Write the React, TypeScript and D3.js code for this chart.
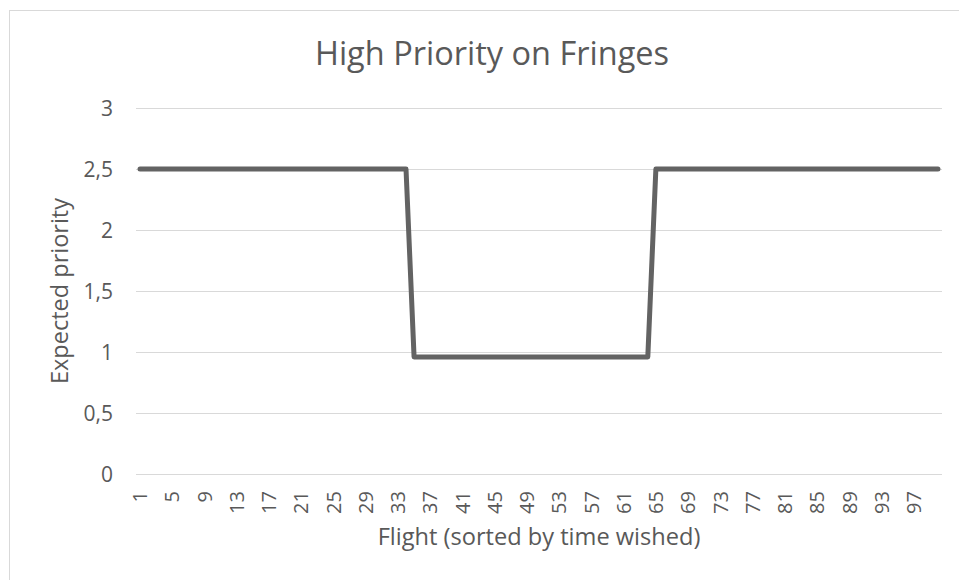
import React from "react";
import * as d3 from "d3";

const title = "High Priority on Fringes";
const xTitle = "Flight (sorted by time wished)";
const yTitle = "Expected priority";

// Flight numbers 1..100
const flights: number[] = [
  1, 2, 3, 4, 5, 6, 7, 8, 9, 10, 11, 12, 13, 14, 15, 16, 17, 18, 19, 20,
  21, 22, 23, 24, 25, 26, 27, 28, 29, 30, 31, 32, 33, 34, 35, 36, 37, 38, 39, 40,
  41, 42, 43, 44, 45, 46, 47, 48, 49, 50, 51, 52, 53, 54, 55, 56, 57, 58, 59, 60,
  61, 62, 63, 64, 65, 66, 67, 68, 69, 70, 71, 72, 73, 74, 75, 76, 77, 78, 79, 80,
  81, 82, 83, 84, 85, 86, 87, 88, 89, 90, 91, 92, 93, 94, 95, 96, 97, 98, 99, 100,
];

// Expected priority per flight
const priority: number[] = [
  2.5, 2.5, 2.5, 2.5, 2.5, 2.5, 2.5, 2.5, 2.5, 2.5,
  2.5, 2.5, 2.5, 2.5, 2.5, 2.5, 2.5, 2.5, 2.5, 2.5,
  2.5, 2.5, 2.5, 2.5, 2.5, 2.5, 2.5, 2.5, 2.5, 2.5,
  2.5, 2.5, 2.5, 2.5, 0.96, 0.96, 0.96, 0.96, 0.96, 0.96,
  0.96, 0.96, 0.96, 0.96, 0.96, 0.96, 0.96, 0.96, 0.96, 0.96,
  0.96, 0.96, 0.96, 0.96, 0.96, 0.96, 0.96, 0.96, 0.96, 0.96,
  0.96, 0.96, 0.96, 0.96, 2.5, 2.5, 2.5, 2.5, 2.5, 2.5,
  2.5, 2.5, 2.5, 2.5, 2.5, 2.5, 2.5, 2.5, 2.5, 2.5,
  2.5, 2.5, 2.5, 2.5, 2.5, 2.5, 2.5, 2.5, 2.5, 2.5,
  2.5, 2.5, 2.5, 2.5, 2.5, 2.5, 2.5, 2.5, 2.5, 2.5,
];

const yTicks: number[] = [0, 0.5, 1, 1.5, 2, 2.5, 3];
const xTickLabels: number[] = [1, 5, 9, 13, 17, 21, 25, 29, 33, 37, 41, 45, 49, 53, 57, 61, 65, 69, 73, 77, 81, 85, 89, 93, 97];

const W = 959;
const H = 580;
const FONT = "'Open Sans', Lato, sans-serif";
const TXT = "#595959";

export default function App() {
  const x = d3
    .scalePoint<number>()
    .domain(flights)
    .range([136, 942])
    .padding(0.5);
  const y = d3.scaleLinear().domain([0, 3]).range([474, 108]);

  const line = d3
    .line<number>()
    .x((_, i) => x(flights[i]) as number)
    .y((d) => y(d));

  const fmt = (v: number) => String(v).replace(".", ",");

  return (
    <svg
      width={W}
      height={H}
      style={{ position: "absolute", left: 0, top: 0, background: "#fff" }}
      fontFamily={FONT}
    >
      <rect x={0} y={0} width={W} height={H} fill="#fff" />
      <rect x={9.5} y={10.5} width={W + 20} height={H + 20} fill="none" stroke="#d9d9d9" strokeWidth={1} />

      <text x={492} y={65} textAnchor="middle" fontSize={32.5} fill={TXT}>
        {title}
      </text>

      {yTicks.map((t) => (
        <g key={t}>
          <line x1={136} x2={942} y1={Math.round(y(t)) + 0.5} y2={Math.round(y(t)) + 0.5} stroke="#d9d9d9" strokeWidth={1} />
          <text x={113} y={y(t)} dy="0.36em" textAnchor="end" fontSize={21} fill={TXT}>
            {fmt(t)}
          </text>
        </g>
      ))}

      {xTickLabels.map((f) => (
        <text
          key={f}
          transform={`translate(${x(f)},${491}) rotate(-90)`}
          dy="0.36em"
          textAnchor="end"
          fontSize={20}
          fill={TXT}
        >
          {f}
        </text>
      ))}

      <path
        d={line(priority) || ""}
        fill="none"
        stroke="#636363"
        strokeWidth={5}
        strokeLinejoin="round"
        strokeLinecap="round"
      />

      <text x={539} y={545} textAnchor="middle" fontSize={23.6} fill={TXT}>
        {xTitle}
      </text>
      <text
        transform={`translate(${68},${291}) rotate(-90)`}
        textAnchor="middle"
        fontSize={23.5}
        fill={TXT}
      >
        {yTitle}
      </text>
    </svg>
  );
}
